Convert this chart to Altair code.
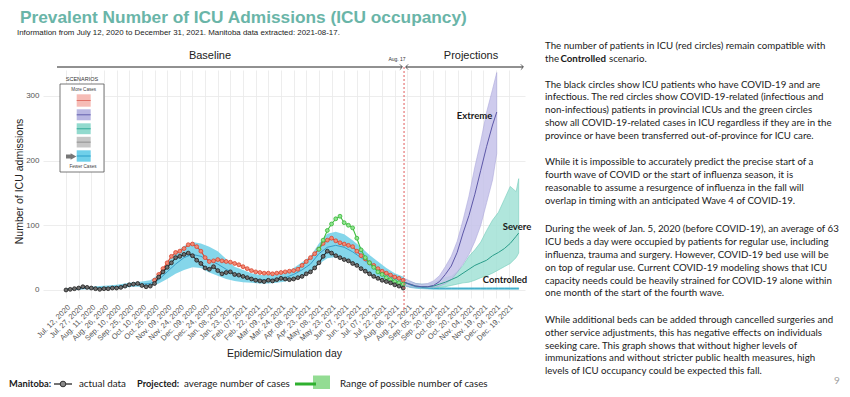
import json
import altair as alt
import pandas as pd

# ------------------------------------------------------------------ data
tick_labels = ["Jul. 12, 2020", "Jul. 27, 2020", "Aug. 11, 2020", "Aug. 26, 2020", "Sep. 10, 2020",
               "Sep. 25, 2020", "Oct. 10, 2020", "Oct. 25, 2020", "Nov. 09, 2020", "Nov. 24, 2020",
               "Dec. 09, 2020", "Dec. 24, 2020", "Jan. 08, 2021", "Jan. 23, 2021", "Feb. 07, 2021",
               "Feb. 22, 2021", "Mar. 09, 2021", "Mar. 24, 2021", "Apr. 08, 2021", "Apr. 23, 2021",
               "May. 08, 2021", "May. 23, 2021", "Jun. 07, 2021", "Jun. 22, 2021", "Jul. 07, 2021",
               "Jul. 22, 2021", "Aug. 06, 2021", "Aug. 21, 2021", "Sep. 05, 2021", "Sep. 20, 2021",
               "Oct. 05, 2021", "Oct. 20, 2021", "Nov. 04, 2021", "Nov. 19, 2021", "Dec. 04, 2021",
               "Dec. 19, 2021"]
tick_days = list(range(0, 526, 15))          # days since Jul. 12, 2020
y_ticks = [0, 100, 200, 300]
aug17_day = 401

# actual data (black circles: infectious COVID-19 ICU patients)
black_days = list(range(0, 401, 5))
black_icu = [0, 1, 2, 3, 5, 4, 3, 2, 1, 2,
             2, 3, 3, 4, 6, 8, 9, 10, 7, 5,
             6, 10, 20, 28, 35, 42, 50, 52, 55, 57,
             53, 46, 41, 34, 32, 36, 30, 25, 27, 28,
             24, 23, 21, 19, 17, 15, 14, 13, 15, 14,
             16, 18, 17, 16, 17, 19, 21, 25, 28, 34,
             42, 52, 60, 57, 53, 50, 47, 45, 41, 38,
             33, 29, 25, 21, 18, 15, 13, 11, 8, 6,
             3]

# red circles: COVID-19-related patients in provincial ICUs
red_days = list(range(105, 401, 5))
red_icu = [15, 24, 33, 42, 52, 58, 60, 64, 70, 71,
           67, 60, 50, 44, 45, 47, 45, 44, 43, 41,
           39, 36, 33, 30, 28, 27, 26, 26, 25, 26,
           27, 28, 29, 30, 32, 38, 44, 50, 56, 63,
           72, 77, 80, 76, 73, 71, 69, 67, 60, 53,
           48, 42, 38, 33, 29, 26, 23, 20, 18, 15]

# green circles: all COVID-19-related ICU cases incl. out-of-province
green_days = list(range(300, 401, 5))
green_icu = [63, 77, 92, 102, 110, 114, 104, 100, 96, 80,
             62, 50, 42, 35, 28, 24, 19, 16, 13, 11, 9]

# baseline model band
band_days = list(range(0, 400, 10)) + [401]
band_low = [0, 0, 1, 1, 1, 2, 3, 4, 5, 5,
            6, 10, 17, 25, 31, 35, 34, 27, 22, 17,
            14, 12, 11, 10, 10, 11, 13, 17, 22, 29,
            40, 49, 51, 48, 42, 35, 26, 20, 15, 11, 8]
band_high = [2, 3, 4, 5, 6, 7, 8, 10, 12, 13,
             15, 24, 42, 58, 68, 74, 72, 67, 60, 48,
             36, 31, 26, 23, 23, 24, 26, 34, 43, 52,
             72, 87, 90, 86, 77, 66, 54, 44, 34, 26, 20]
band_mean = [1, 1.5, 2, 3, 3, 4, 5, 7, 8, 9,
             10, 16, 28, 40, 50, 55, 52, 46, 40, 32,
             25, 21, 18, 16, 16, 17, 19, 24, 31, 40,
             56, 66, 69, 66, 59, 50, 40, 32, 24, 18, 14]

# projections
proj_days = list(range(401, 535, 7)) + [537]
extreme_days = list(range(401, 507, 7)) + [511]
extreme_mean = [12, 9, 6, 5, 5, 7, 13, 24, 37, 58, 88, 115, 148, 185, 222, 255, 275]
extreme_high = [18, 14, 10, 9, 10, 14, 22, 36, 52, 75, 108, 145, 190, 230, 275, 310, 336]
extreme_low = [7, 5, 4, 3, 3, 4, 6, 10, 16, 27, 40, 55, 75, 100, 135, 170, 211]
severe_mean = [12, 9, 6, 5, 5, 6, 9, 12, 16, 20, 26, 32, 38, 42, 46, 53, 58, 64, 72, 83, 88]
severe_high = [17, 13, 10, 9, 9, 11, 15, 19, 21, 28, 38, 52, 62, 74, 92, 108, 120, 140, 160, 152, 172]
severe_low = [7, 5, 4, 3, 3, 3, 4, 5, 7, 9, 11, 12, 15, 19, 22, 26, 31, 36, 41, 50, 57]
controlled_mean = [12, 8, 5, 4, 3, 2.5, 2, 2, 2, 2, 2, 2, 2, 2, 2, 2, 2, 2, 2, 2, 2]
controlled_high = [17, 12, 8, 6, 5, 4, 4, 3.5, 3.5, 3.5, 3.5, 3.5, 3.5, 3.5, 3.5, 3.5, 3.5, 3.5, 3.5, 3.5, 3.5]
controlled_low = [7, 4, 2.5, 2, 1.5, 1, 1, 1, 1, 1, 1, 1, 1, 1, 1, 1, 1, 1, 1, 1, 1]

# texts
title_text = "Prevalent Number of ICU Admissions (ICU occupancy)"
subtitle_text = "Information from July 12, 2020 to December 31, 2021. Manitoba data extracted: 2021-08-17."
paragraphs = [
    ["The number of patients in ICU (red circles) remain compatible with"],
    ["The black circles show ICU patients who have COVID-19 and are",
     "infectious. The red circles show COVID-19-related (infectious and",
     "non-infectious) patients in provincial ICUs and the green circles",
     "show all COVID-19-related cases in ICU regardless if they are in the",
     "province or have been transferred out-of-province for ICU care."],
    ["While it is impossible to accurately predict the precise start of a",
     "fourth wave of COVID or the start of influenza season, it is",
     "reasonable to assume a resurgence of influenza in the fall will",
     "overlap in timing with an anticipated Wave 4 of COVID-19."],
    ["During the week of Jan. 5, 2020 (before COVID-19), an average of 63",
     "ICU beds a day were occupied by patients for regular use, including",
     "influenza, trauma and surgery. However, COVID-19 bed use will be",
     "on top of regular use. Current COVID-19 modeling shows that ICU",
     "capacity needs could be heavily strained for COVID-19 alone within",
     "one month of the start of the fourth wave."],
    ["While additional beds can be added through cancelled surgeries and",
     "other service adjustments, this has negative effects on individuals",
     "seeking care. This graph shows that without higher levels of",
     "immunizations and without stricter public health measures, high",
     "levels of ICU occupancy could be expected this fall."],
]

# ------------------------------------------------------------------ layout
X0, Y0 = 43, 70            # page position of plot-area origin
PW, PH = 482, 228
SANS = "Liberation Sans, Arial, sans-serif"
CAL = "Lato, Carlito, sans-serif"
TEAL = "#6ab5a8"
BODY = 9.7


def P(x, y):
    return x - X0, y - Y0


def tdf(rows):
    out = []
    for x, y, t in rows:
        a, b = P(x, y)
        out.append({"x": a, "y": b, "text": t})
    return pd.DataFrame(out)


def tlayer(rows, **kw):
    return alt.Chart(tdf(rows)).mark_text(**kw).encode(
        x=alt.X("x:Q", scale=None, axis=None),
        y=alt.Y("y:Q", scale=None, axis=None),
        text="text:N")


xs = alt.Scale(domain=[-27.3, 544.5], nice=False, zero=False)
ys = alt.Scale(domain=[-12.4, 340], nice=False, zero=False)

label_expr = json.dumps(tick_labels) + "[round(datum.value/15)]"
xaxis = alt.Axis(values=tick_days, labelExpr=label_expr, labelAngle=-45, labelAlign="right",
                 labelBaseline="top", labelOverlap=False, labelFlush=False, labelFontSize=7.6,
                 labelColor="#555555", labelFont=SANS, labelPadding=5, grid=True,
                 gridColor="#e8e8e8", gridWidth=0.8, ticks=False, domain=False,
                 title="Epidemic/Simulation day", titleFontSize=10.5, titleFontWeight="normal",
                 titleColor="#222222", titleFont=SANS, titleY=55, titleBaseline="middle")
yaxis = alt.Axis(values=y_ticks, labelFontSize=8, labelColor="#555555", labelFont=SANS,
                 labelPadding=4, grid=True, gridColor="#e8e8e8", gridWidth=0.8, ticks=False,
                 domain=False, title="Number of ICU admissions", titleFontSize=10.5,
                 titleFontWeight="normal", titleColor="#222222", titleFont=SANS,
                 titleX=-24, titleY=111, titleBaseline="middle")

Xd = lambda f: alt.X(f, scale=xs, axis=None)
Yd = lambda f: alt.Y(f, scale=ys, axis=None)

band_df = pd.DataFrame({"day": band_days, "low": band_low, "high": band_high, "mean": band_mean})
ext_df = pd.DataFrame({"day": extreme_days, "low": extreme_low, "high": extreme_high, "mean": extreme_mean})
sev_df = pd.DataFrame({"day": proj_days, "low": severe_low, "high": severe_high, "mean": severe_mean})
con_df = pd.DataFrame({"day": proj_days, "low": controlled_low, "high": controlled_high, "mean": controlled_mean})
black_df = pd.DataFrame({"day": black_days, "v": black_icu})
red_df = pd.DataFrame({"day": red_days, "v": red_icu})
green_df = pd.DataFrame({"day": green_days, "v": green_icu})

layers = []
layers.append(alt.Chart(band_df).mark_area(color="#78d2e8", opacity=0.9).encode(
    x=alt.X("day:Q", scale=xs, axis=xaxis), y=alt.Y("low:Q", scale=ys, axis=yaxis), y2="high:Q"))
for df, fill, edge in [(con_df, "#6ccfe4", "#4bb8d2"), (sev_df, "#a3e2d6", "#5cc4b0"),
                       (ext_df, "#c6c3ea", "#9f9bd6")]:
    layers.append(alt.Chart(df).mark_area(color=fill, opacity=0.85, stroke=edge, strokeWidth=0.6).encode(
        x=Xd("day:Q"), y=Yd("low:Q"), y2="high:Q"))
for df, col in [(band_df, "#3a9cc8"), (con_df, "#3aa6c6"), (sev_df, "#2a9d8a"), (ext_df, "#5d58a8")]:
    layers.append(alt.Chart(df).mark_line(color=col, strokeWidth=1).encode(x=Xd("day:Q"), y=Yd("mean:Q")))

for df, lc, fill, stroke in [(red_df, "#d9452f", "#f28a76", "#d9452f"),
                             (green_df, "#3fbf3f", "#8fe38f", "#36b536"),
                             (black_df, "#222222", "#707070", "#1e1e1e")]:
    layers.append(alt.Chart(df).mark_line(color=lc, strokeWidth=1.1).encode(x=Xd("day:Q"), y=Yd("v:Q")))
    layers.append(alt.Chart(df).mark_circle(size=15, fill=fill, stroke=stroke, strokeWidth=0.8,
                                            opacity=1).encode(x=Xd("day:Q"), y=Yd("v:Q")))

# Aug. 17 dotted line
layers.append(alt.Chart(pd.DataFrame({"day": [aug17_day]})).mark_rule(
    color="#e05a5a", strokeDash=[2, 2], strokeWidth=1).encode(
    x=Xd("day:Q"), y=alt.value(P(0, 67)[1]), y2=alt.value(P(0, 312)[1])))


def rule_layer(rows, **kw):
    out = []
    for x1, x2, y1, y2 in rows:
        a1, b1 = P(x1, y1)
        a2, b2 = P(x2, y2)
        out.append({"x": a1, "x2": a2, "y": b1, "y2": b2})
    return alt.Chart(pd.DataFrame(out)).mark_rule(**kw).encode(
        x=alt.X("x:Q", scale=None, axis=None), x2="x2:Q",
        y=alt.Y("y:Q", scale=None, axis=None), y2="y2:Q")


def rect_layer(rows, **kw):
    out = []
    for x1, x2, y1, y2 in rows:
        a1, b1 = P(x1, y1)
        a2, b2 = P(x2, y2)
        out.append({"x": a1, "x2": a2, "y": b1, "y2": b2})
    return alt.Chart(pd.DataFrame(out)).mark_rect(**kw).encode(
        x=alt.X("x:Q", scale=None, axis=None), x2="x2:Q",
        y=alt.Y("y:Q", scale=None, axis=None), y2="y2:Q")


def point_layer(rows, **kw):
    return alt.Chart(tdf([(x, y, "") for x, y in rows])).mark_point(**kw).encode(
        x=alt.X("x:Q", scale=None, axis=None), y=alt.Y("y:Q", scale=None, axis=None))


# Baseline / Projections header arrows
layers.append(rule_layer([(57, 402, 67, 67), (406, 523, 67, 67)], color="#222222", strokeWidth=1))
layers.append(point_layer([(402.5, 67), (523.5, 67)], shape="M-1,-1L0,0L-1,1", filled=False,
                          stroke="#222222", strokeWidth=1, size=28))
layers.append(point_layer([(405.5, 67)], shape="M1,-1L0,0L1,1", filled=False,
                          stroke="#222222", strokeWidth=1, size=28))
layers.append(tlayer([(210, 56, "Baseline"), (471, 56, "Projections")], font=SANS, fontSize=11,
                     color="#222222", align="center", baseline="middle"))
layers.append(tlayer([(397, 58.5, "Aug. 17")], font=SANS, fontSize=5, color="#333333",
                     align="center", baseline="middle"))

# scenario labels
layers.append(tlayer([(474.5, 116, "Extreme"), (517, 226.5, "Severe"), (505, 280, "Controlled")],
                     font=CAL, fontSize=9.5, fontWeight="bold", color="#1a1a1a",
                     align="center", baseline="middle"))

# scenarios inset legend
layers.append(rect_layer([(60, 104, 84, 172)], fill="white", stroke="#555555", strokeWidth=0.8))
seg_y = [(94.3, 106.7), (109.3, 120.3), (123.3, 134.2), (136.8, 147.5), (150.3, 161.7)]
seg_fill = ["#f6bcb6", "#b9b7e2", "#92dace", "#c6c6c6", "#6fd0ea"]
seg_line = ["#e06a60", "#5b58a8", "#2aa594", "#8a8a8a", "#2299c6"]
for (a, b), f, l in zip(seg_y, seg_fill, seg_line):
    layers.append(rect_layer([(76.7, 90.7, a, b)], fill=f))
    layers.append(rule_layer([(76.7, 90.7, (a + b) / 2, (a + b) / 2)], color=l, strokeWidth=0.9))
layers.append(rule_layer([(66, 72, 156.5, 156.5)], color="#777777", strokeWidth=4))
layers.append(point_layer([(73.5, 156.5)], shape="triangle-right", filled=True, color="#777777",
                          size=45, opacity=1))
layers.append(tlayer([(82, 79, "SCENARIOS")], font=SANS, fontSize=5.5, color="#333333",
                     align="center", baseline="middle"))
layers.append(tlayer([(83.7, 89.5, "More Cases"), (83, 167, "Fewer Cases")], font=SANS,
                     fontSize=4.6, color="#444444", align="center", baseline="middle"))

# title and subtitle
layers.append(tlayer([(20, 17.5, title_text)], font=SANS, fontSize=17.3, fontWeight="bold",
                     color=TEAL, align="left", baseline="middle"))
layers.append(tlayer([(17, 33, subtitle_text)], font=SANS, fontSize=7.9, color="#222222",
                     align="left", baseline="middle"))

# right-hand text
starts = [46, 84.5, 162.3, 229.3, 320]
LH = 12.8
rows = []
for s, lines in zip(starts, paragraphs):
    for i, line in enumerate(lines):
        rows.append((545, s + i * LH, line))
rows.append((545, 58.6, "the"))
rows.append((609, 58.6, "scenario."))
layers.append(tlayer(rows, font=CAL, fontSize=BODY, color="#1a1a1a", align="left", baseline="middle"))
layers.append(tlayer([(560.5, 58.6, "Controlled")], font=CAL, fontSize=BODY, fontWeight="bold",
                     color="#1a1a1a", align="left", baseline="middle"))
layers.append(tlayer([(837, 381, "9")], font=CAL, fontSize=10, color="#a0a0a0",
                     align="center", baseline="middle"))

# bottom legend
layers.append(tlayer([(9, 384, "Manitoba:"), (137, 384, "Projected:")], font=CAL, fontSize=9.3,
                     fontWeight="bold", color="#1a1a1a", align="left", baseline="middle"))
layers.append(tlayer([(79, 384, "actual data"), (184, 384, "average number of cases"),
                      (340, 384, "Range of possible number of cases")], font=CAL, fontSize=9.8,
                     color="#1a1a1a", align="left", baseline="middle"))
layers.append(rule_layer([(54, 72, 384, 384)], color="#444444", strokeWidth=1.5))
layers.append(point_layer([(63, 384)], shape="circle", filled=True, fill="#8a8a8a",
                          stroke="#333333", strokeWidth=1, size=32, opacity=1))
layers.append(rect_layer([(313, 330, 375.5, 389)], fill="#93dc93"))
layers.append(rule_layer([(295, 316, 384, 384)], color="#2fb02f", strokeWidth=3))

chart = alt.layer(*layers).resolve_scale(x="independent", y="independent").properties(
    width=PW, height=PH,
    padding={"left": X0 - 8, "top": Y0 - 8, "right": 834 - (X0 - 8) - PW, "bottom": 381 - (Y0 - 8) - PH},
    autosize=alt.AutoSizeParams(type="none"),
    background="white",
).configure_view(stroke=None)

chart.save("out.html", embed_options={"renderer": "svg", "actions": False})
